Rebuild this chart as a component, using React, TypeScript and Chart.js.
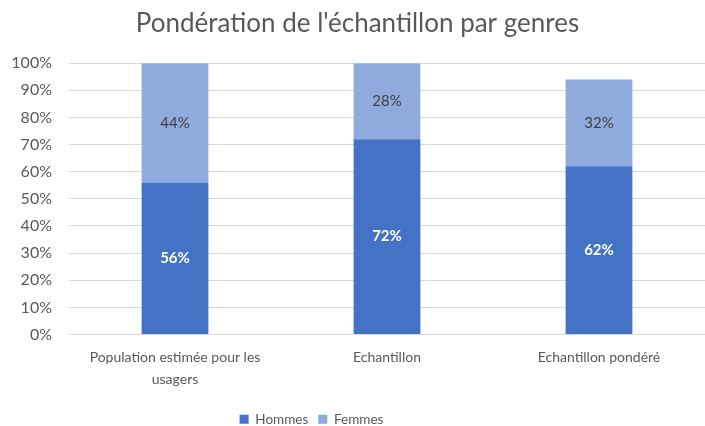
import React, { useEffect, useRef } from "react";
import { Chart, registerables } from "chart.js";

Chart.register(...registerables);

const categories = [["Population estimée pour les", "usagers"], "Echantillon", "Echantillon pondéré"];
const hommes = [56, 72, 62];
const femmes = [44, 28, 32];
const title = "Pondération de l'échantillon par genres";
const FONT = "Lato, 'Open Sans', sans-serif";

const labelPlugin = {
  id: "barLabels",
  afterDatasetsDraw(chart: any) {
    const ctx = chart.ctx;
    ctx.save();
    ctx.textAlign = "center";
    ctx.textBaseline = "middle";
    chart.data.datasets.forEach((ds: any, i: number) => {
      const meta = chart.getDatasetMeta(i);
      meta.data.forEach((bar: any, j: number) => {
        const v = ds.data[j];
        const y = (bar.y + bar.base) / 2;
        ctx.fillStyle = i === 0 ? "#ffffff" : "#404040";
        ctx.font = i === 0 ? `bold 15px ${FONT}` : `15px ${FONT}`;
        ctx.fillText(v + "%", bar.x, y);
      });
    });
    ctx.restore();
  },
};

const legendShift = {
  id: "legendShift",
  afterLayout(chart: any) {
    const lg = chart.legend;
    if (lg) {
      lg.left -= 46;
      lg.right -= 46;
    }
  },
};

export default function App() {
  const ref = useRef<HTMLCanvasElement>(null);
  useEffect(() => {
    document.body.style.margin = "0";
    document.documentElement.style.overflow = "hidden";
    document.body.style.overflow = "hidden";
    const chart = new Chart(ref.current!, {
      type: "bar",
      data: {
        labels: categories as any,
        datasets: [
          { label: "Hommes", data: hommes, backgroundColor: "#4472c4", barPercentage: 1, categoryPercentage: 0.315 },
          { label: "Femmes", data: femmes, backgroundColor: "#8faadc", barPercentage: 1, categoryPercentage: 0.315 },
        ],
      },
      options: {
        animation: false,
        responsive: false,
        maintainAspectRatio: false,
        layout: { padding: { left: 10, right: 0, top: 0, bottom: -10 } },
        plugins: {
          title: {
            display: true,
            text: title,
            color: "#595959",
            font: { family: FONT, size: 26, weight: "normal" },
            padding: { top: 8, bottom: 24 },
          },
          legend: {
            position: "bottom",
            labels: {
              color: "#595959",
              font: { family: FONT, size: 13.5 },
              boxWidth: 9,
              boxHeight: 9,
              padding: 10,
            },
          },
          tooltip: { enabled: false },
        },
        scales: {
          x: {
            stacked: true,
            grid: { display: false },
            border: { color: "#d9d9d9" },
            afterFit: (s: any) => {
              s.paddingRight = 0;
              s.paddingLeft = 0;
              s.height = 68;
            },
            ticks: {
              color: "#595959",
              font: { family: FONT, size: 14, lineHeight: 1.55 },
              maxRotation: 0,
              padding: 4,
            },
          },
          y: {
            stacked: true,
            min: 0,
            max: 100,
            grid: { color: "#d9d9d9", drawTicks: false },
            border: { display: false },
            afterFit: (s: any) => {
              s.width = 59;
            },
            ticks: {
              stepSize: 10,
              color: "#595959",
              font: { family: FONT, size: 16 },
              padding: 17,
              callback: (v: any) => v + "%",
            },
          },
        },
      },
      plugins: [labelPlugin, legendShift],
    });
    return () => chart.destroy();
  }, []);
  return <canvas ref={ref} width={705} height={426} style={{ display: "block" }} />;
}
